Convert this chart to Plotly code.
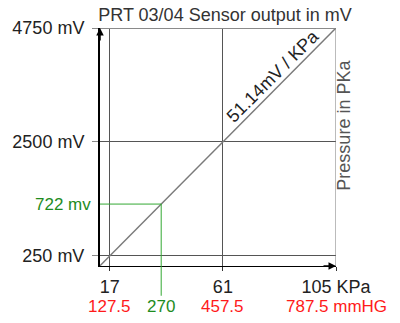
import plotly.graph_objects as go

# ---- data ----
kpa_ticks = [17, 61, 105]
kpa_labels = ["17", "61", "105 KPa"]
mmhg_labels = ["127.5", "457.5", "787.5 mmHG"]
mv_ticks = [250, 2500, 4750]
mv_labels = ["250 mV", "2500 mV", "4750 mV"]
line_kpa = [13.2, 17, 61, 105]
line_mv = [56, 250, 2500, 4750]
marker_kpa = 37.0
marker_mv = 1273
marker_x_label = "270"
marker_y_label = "722 mv"
slope_label = "51.14mV / KPa"
slope_label_pos = (80.5, 3800)
title_text = "PRT 03/04 Sensor output in mV"
right_label = "Pressure in PKa"

x_range = [13.2, 105]
y_range = [50, 4750]

FONT = "Liberation Sans, Arial, sans-serif"
GREEN = "#1e8c1e"
GREEN_LINE = "#33a833"
RED = "#ff1a1a"
DARK = "#222222"
GRID = "#555555"

fig = go.Figure()

# sensor characteristic line
fig.add_trace(go.Scatter(x=line_kpa, y=line_mv, mode="lines",
                         line=dict(color="#7a7a7a", width=1.5),
                         hoverinfo="skip", showlegend=False))

# green reading lines
fig.add_trace(go.Scatter(x=[x_range[0], marker_kpa, marker_kpa],
                         y=[marker_mv, marker_mv, y_range[0]], mode="lines",
                         line=dict(color=GREEN_LINE, width=1),
                         hoverinfo="skip", showlegend=False))
fig.add_shape(type="line", xref="x", yref="paper", x0=marker_kpa, x1=marker_kpa,
              y0=-0.125, y1=0, line=dict(color=GREEN_LINE, width=1))

# edge grid lines (top / right), which plotly omits at the range limits
fig.add_shape(type="line", xref="x", yref="y", x0=x_range[0], x1=kpa_ticks[-1],
              y0=mv_ticks[-1], y1=mv_ticks[-1], line=dict(color="#8a8a8a", width=2))
fig.add_shape(type="line", xref="x", yref="y", x0=kpa_ticks[-1], x1=kpa_ticks[-1],
              y0=y_range[0], y1=mv_ticks[-1], line=dict(color="#777777", width=1))

annotations = []
# red mmHg labels
for xv, t in zip(kpa_ticks, mmhg_labels):
    annotations.append(dict(x=xv, y=-0.172, xref="x", yref="paper", text=t,
                            showarrow=False, font=dict(color=RED, size=17, family=FONT),
                            xanchor="center", yanchor="middle"))
# green labels
annotations.append(dict(x=marker_kpa, y=-0.172, xref="x", yref="paper", text=marker_x_label,
                        showarrow=False, font=dict(color=GREEN, size=17, family=FONT),
                        xanchor="center", yanchor="middle"))
annotations.append(dict(x=0, y=marker_mv, xref="paper", yref="y", text=marker_y_label,
                        showarrow=False, font=dict(color=GREEN, size=17, family=FONT),
                        xanchor="right", yanchor="middle", xshift=-7))
# slope label
annotations.append(dict(x=slope_label_pos[0], y=slope_label_pos[1], xref="x", yref="y",
                        text=slope_label, textangle=-45, showarrow=False,
                        font=dict(color=DARK, size=18, family=FONT)))
# right label
annotations.append(dict(x=1.085, y=0.59, xref="paper", yref="paper", text=right_label,
                        textangle=-90, showarrow=False,
                        font=dict(color="#555555", size=18, family=FONT)))
# axis arrows
annotations.append(dict(x=x_range[0], y=y_range[1], xref="x", yref="y", text="",
                        showarrow=True, ax=0, ay=14, arrowhead=2, arrowsize=1,
                        arrowwidth=1.5, arrowcolor="black"))
annotations.append(dict(x=x_range[1], y=y_range[0], xref="x", yref="y", text="",
                        showarrow=True, ax=-14, ay=0, arrowhead=2, arrowsize=1,
                        arrowwidth=1.5, arrowcolor="black"))

fig.update_layout(
    width=400, height=323,
    margin=dict(l=98, r=64, t=28, b=57),
    paper_bgcolor="white", plot_bgcolor="white",
    font=dict(family=FONT, size=18, color=DARK),
    title=dict(text=title_text, x=0.5625, xref="container", xanchor="center",
               y=0.955, yref="container", yanchor="middle",
               font=dict(size=18, color="#333333", family=FONT)),
    annotations=annotations,
    showlegend=False,
)
fig.update_xaxes(range=x_range, tickmode="array", tickvals=kpa_ticks, ticktext=kpa_labels,
                 showgrid=True, gridcolor=GRID, gridwidth=1, zeroline=False,
                 showline=True, linecolor="black", linewidth=1,
                 ticks="outside", ticklen=4, tickcolor="#333333",
                 tickfont=dict(size=18, color=DARK, family=FONT))
fig.update_yaxes(range=y_range, tickmode="array", tickvals=mv_ticks, ticktext=mv_labels,
                 showgrid=True, gridcolor=GRID, gridwidth=1, zeroline=False,
                 showline=True, linecolor="black", linewidth=2,
                 ticks="outside", ticklen=6, tickcolor="#888888",
                 ticklabelstandoff=4,
                 tickfont=dict(size=18, color=DARK, family=FONT))

fig.write_html("out.html")
